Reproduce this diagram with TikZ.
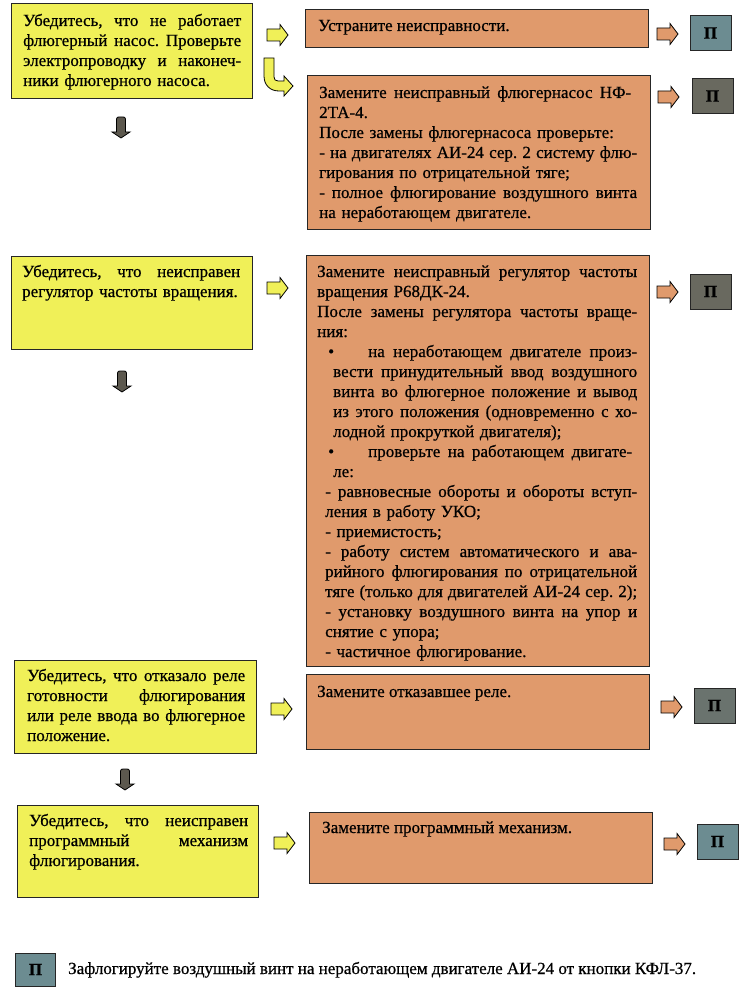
\documentclass[tikz,border=0pt]{standalone}
\usepackage{fontspec}
\setmainfont{Liberation Serif}[FakeBold=0.6]
\definecolor{yel}{RGB}{240,240,88}
\definecolor{org}{RGB}{224,154,108}
\definecolor{pteal}{RGB}{108,140,145}
\definecolor{pgray}{RGB}{105,105,95}
\definecolor{darr}{RGB}{92,88,78}
\newcommand\JL[2]{\makebox[#1][s]{\frenchspacing\spaceskip=0pt\xspaceskip=0pt #2}}
\newcommand\rarr[3]{%
  \draw[arrline, fill=#1] (#2,#3-6) -- (#2+13,#3-6) -- (#2+13,#3-10.5) -- (#2+21,#3)
    -- (#2+13,#3+10.5) -- (#2+13,#3+6) -- (#2,#3+6) -- cycle;}
\newcommand\darrow[2]{%
  \draw[arrline, fill=darr] (#1-4.5,#2+15) -- (#1-4.5,#2+2) .. controls (#1-4.5,#2) and (#1-3,#2) .. (#1-1.5,#2)
    -- (#1+1.5,#2) .. controls (#1+3,#2) and (#1+4.5,#2) .. (#1+4.5,#2+2) -- (#1+4.5,#2+15)
    -- (#1+9,#2+15) -- (#1,#2+21) -- (#1-9,#2+15) -- cycle;}
\begin{document}
\begin{tikzpicture}[x=1pt,y=-1pt,
  box/.style={draw=black!85, line width=0.9pt, inner sep=0pt, anchor=north west},
  txt/.style={inner sep=0pt, anchor=base west, align=left, font=\fontsize{17}{20}\selectfont},
  pbox/.style={draw=black!85, line width=0.9pt, minimum width=41pt, minimum height=35pt, inner sep=0pt, font=\fontsize{17}{20}\selectfont\bfseries},
  arrline/.style={draw=black, line width=0.8pt, line join=miter}]
\fill[white] (0,0) rectangle (750,995);
\useasboundingbox (0,0) rectangle (750,995);

% ---------- yellow boxes ----------
\node[box, fill=yel, minimum width=241pt, minimum height=95pt] (y1) at (11,3) {};
\node[txt, text width=218pt] (y1t) at (23,26) {%
\JL{218pt}{Убедитесь, что не работает}\\
\JL{218pt}{флюгерный насос. Проверьте}\\
\JL{218pt}{электропроводку и наконеч-}\\
ники флюгерного насоса.};

\node[box, fill=yel, minimum width=241pt, minimum height=93pt] (y2) at (11,256) {};
\node[txt, text width=218pt] (y2t) at (22,277) {%
\JL{218pt}{Убедитесь, что неисправен}\\
регулятор частоты вращения.};

\node[box, fill=yel, minimum width=242pt, minimum height=93pt] (y3) at (14,660) {};
\node[txt, text width=218pt] (y3t) at (27,681) {%
\JL{218pt}{Убедитесь, что отказало реле}\\
\JL{218pt}{готовности флюгирования}\\
\JL{218pt}{или реле ввода во флюгерное}\\
положение.};

\node[box, fill=yel, minimum width=241pt, minimum height=92pt] (y4) at (17,805) {};
\node[txt, text width=219pt] (y4t) at (29,826) {%
\JL{219pt}{Убедитесь, что неисправен}\\
\JL{219pt}{программный механизм}\\
флюгирования.};

% ---------- orange boxes ----------
\node[box, fill=org, minimum width=343pt, minimum height=38pt] (o1) at (305,9) {};
\node[txt] (o1t) at (318,31) {Устраните неисправности.};

\node[box, fill=org, minimum width=343pt, minimum height=154pt] (o2) at (307,75) {};
\node[txt, text width=318pt] (o2t) at (319,98) {%
\JL{312pt}{Замените неисправный флюгернасос НФ-}\\
2ТА-4.\\
После замены флюгернасоса проверьте:\\
\JL{318pt}{- на двигателях АИ-24 сер. 2 систему флю-}\\
гирования по отрицательной тяге;\\
\JL{318pt}{- полное флюгирование воздушного винта}\\
на неработающем двигателе.};

\node[box, fill=org, minimum width=343pt, minimum height=411pt] (o3) at (306,255) {};
\node[txt, text width=320pt] (o3t) at (317,277) {%
\JL{320pt}{Замените неисправный регулятор частоты}\\
вращения Р68ДК-24.\\
\JL{320pt}{После замены регулятора частоты враще-}\\
ния:\\
\hspace*{11pt}\makebox[40pt][l]{\textbullet}\JL{269pt}{на неработающем двигателе произ-}\\
\hspace*{16pt}\JL{304pt}{вести принудительный ввод воздушного}\\
\hspace*{16pt}\JL{304pt}{винта во флюгерное положение и вывод}\\
\hspace*{16pt}\JL{304pt}{из этого положения (одновременно с хо-}\\
\hspace*{16pt}лодной прокруткой двигателя);\\
\hspace*{11pt}\makebox[40pt][l]{\textbullet}\JL{264pt}{проверьте на работающем двигате-}\\
\hspace*{16pt}ле:\\
\hspace*{8pt}\JL{312pt}{- равновесные обороты и обороты вступ-}\\
\hspace*{8pt}ления в работу УКО;\\
\hspace*{8pt}- приемистость;\\
\hspace*{8pt}\JL{312pt}{- работу систем автоматического и ава-}\\
\hspace*{8pt}\JL{312pt}{рийного флюгирования по отрицательной}\\
\hspace*{8pt}\JL{312pt}{тяге (только для двигателей АИ-24 сер. 2);}\\
\hspace*{8pt}\JL{312pt}{- установку воздушного винта на упор и}\\
\hspace*{8pt}снятие с упора;\\
\hspace*{8pt}- частичное флюгирование.};

\node[box, fill=org, minimum width=343pt, minimum height=75pt] (o4) at (306,674) {};
\node[txt] (o4t) at (317,697) {Замените отказавшее реле.};

\node[box, fill=org, minimum width=343pt, minimum height=71pt] (o5) at (309,812) {};
\node[txt] (o5t) at (322,833) {Замените программный механизм.};

% ---------- P boxes ----------
\node[pbox, fill=pteal] (p1) at (710.5,33) {П};
\node[pbox, fill=pgray] (p2) at (712.5,96) {П};
\node[pbox, fill=pgray] (p3) at (710.5,291.5) {П};
\node[pbox, fill=pgray!70!pteal] (p4) at (714.5,705.5) {П};
\node[pbox, fill=pteal] (p5) at (717.5,841.5) {П};

% ---------- block arrows ----------
\rarr{yel}{267}{35}
\rarr{yel}{267}{288}
\rarr{yel}{271}{709}
\rarr{yel}{274}{843}
\rarr{org}{657}{34}
\rarr{org}{658}{97}
\rarr{org}{657}{292}
\rarr{org}{661}{707}
\rarr{org}{664}{844}
% curved arrow
\draw[arrline, fill=yel] (264,58) -- (264,76) .. controls (264,85) and (270,91) .. (279,91)
  -- (284,91) -- (284,96) -- (293,86) -- (284,76) -- (284,81) -- (278,81)
  .. controls (275.5,81) and (274,79.5) .. (274,77) -- (274,58) -- cycle;
% down arrows
\darrow{121}{117}
\darrow{122}{371}
\darrow{125}{769}

% ---------- legend ----------
\node[pbox, fill=pteal, minimum width=40pt, minimum height=33pt] (pl) at (35.5,969.5) {П};
\node[txt] (lt) at (68,974) {Зафлогируйте воздушный винт на неработающем двигателе АИ-24 от кнопки КФЛ-37.};
\end{tikzpicture}
\end{document}
